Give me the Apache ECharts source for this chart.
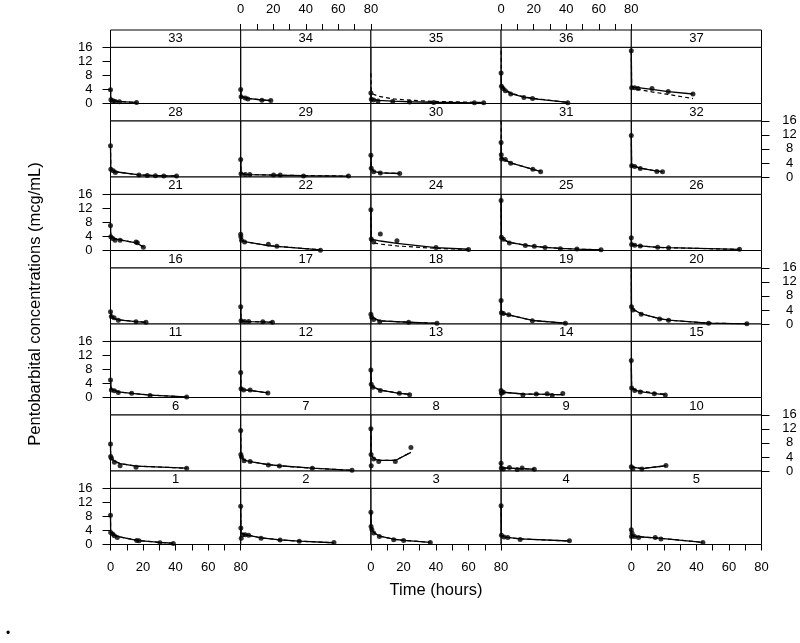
<!DOCTYPE html>
<html>
<head>
<meta charset="utf-8">
<script src="https://cdn.jsdelivr.net/npm/echarts@6/dist/echarts.min.js"></script>
<style>
  html, body { margin: 0; padding: 0; background: #fff; }
  #chartContainer { width: 800px; height: 643px; }
</style>
</head>
<body>
<div id="chartContainer"></div>
<script>
// panels as laid out on the page, top row first
var panelRows = [
  [33, 34, 35, 36, 37],
  [28, 29, 30, 31, 32],
  [21, 22, 24, 25, 26],
  [16, 17, 18, 19, 20],
  [11, 12, 13, 14, 15],
  [6, 7, 8, 9, 10],
  [1, 2, 3, 4, 5]
];
var xTicks = [0, 20, 40, 60, 80];
var yTicks = [0, 4, 8, 12, 16];

// one array per subject, each row: [time (h), observed, individual fit, population fit]
var s1 = [[0, 8.3, 8.3, 8.3], [0.1, 3.4, 3.4, 3.4], [1.3, 3.0, 3.0, 3.0], [2.4, 2.5, 2.7, 2.7], [4.2, 2.0, 2.3, 2.3], [16.1, 1.15, 1.2, 1.2], [17.5, 1.1, 1.1, 1.1], [30.4, 0.5, 0.6, 0.6], [38.6, 0.3, 0.35, 0.35]];
var s2 = [[0, 10.9, 10.9, 10.9], [0.1, 4.7, 4.7, 4.7], [0.3, 1.8, 3.2, 3.2], [1.2, 2.8, 3.0, 3.0], [2.8, 2.8, 2.8, 2.8], [4.9, 2.6, 2.6, 2.6], [12.5, 1.8, 1.9, 1.9], [24.2, 1.25, 1.3, 1.3], [36, 0.95, 0.95, 0.95], [57.3, 0.6, 0.5, 0.5]];
var s3 = [[0, 9.2, 9.2, 9.2], [0.1, 5.1, 5.1, 5.1], [0.6, 4.3, 4.3, 4.3], [1.7, 3.3, 3.4, 3.4], [5.2, 2.3, 2.4, 2.4], [14, 1.35, 1.5, 1.5], [20.1, 1.15, 1.2, 1.2], [36.5, 0.6, 0.6, 0.6]];
var s4 = [[0, 11.0, 11.0, 11.0], [0.2, 2.6, 2.6, 2.6], [1.8, 2.1, 2.2, 2.2], [4.1, 2.0, 2.0, 2.0], [11.7, 1.45, 1.6, 1.6], [42, 1.05, 1.0, 1.0]];
var s5 = [[0, 4.2, 4.2, 4.2], [0.1, 2.3, 3.2, 3.2], [0.5, 3.2, 2.6, 2.6], [2.1, 2.3, 2.3, 2.3], [4.5, 2.0, 2.2, 2.2], [14.7, 2.0, 1.9, 1.9], [18.2, 1.6, 1.75, 1.75], [44, 0.55, 0.6, 0.6]];
var s6 = [[0, 7.7, 7.7, 7.7], [0.1, 4.1, 4.1, 4.1], [0.6, 3.6, 3.5, 3.5], [2.4, 2.5, 2.8, 2.8], [5.9, 1.5, 2.1, 2.1], [15.7, 1.1, 1.4, 1.4], [46.8, 0.75, 0.8, 0.8]];
var s7 = [[0, 11.5, 11.5, 11.5], [0.1, 4.7, 4.7, 4.7], [0.5, 4.0, 4.0, 4.0], [2.1, 2.9, 3.1, 3.1], [5.8, 2.7, 2.7, 2.7], [17, 1.7, 1.8, 1.8], [23.8, 1.4, 1.5, 1.5], [44, 0.75, 0.8, 0.8], [68.4, 0.2, 0.2, 0.2]];
var s8 = [[0, 12.0, 12.0, 12.0], [0.1, 4.7, 4.7, 4.7], [0.2, 1.5, 4.2, 4.2], [1.7, 3.4, 3.5, 3.5], [4.8, 2.7, 3.0, 3.0], [15, 2.7, 3.0, 3.0], [24.6, 6.7, 5.3, 5.3]];
var s9 = [[0, 2.2, 2.2, 2.2], [0.1, 0.85, 1.0, 1.0], [1.4, 0.6, 0.9, 0.9], [5.1, 1.0, 0.8, 0.8], [9.9, 0.4, 0.7, 0.7], [12.9, 0.85, 0.65, 0.65], [20.4, 0.5, 0.5, 0.5]];
var s10 = [[0, 1.2, 1.2, 1.2], [1, 0.7, 0.8, 0.8], [6.5, 0.55, 0.7, 0.7], [21.3, 1.6, 1.5, 1.5]];
var s11 = [[0, 5.0, 5.0, 5.0], [0.5, 2.1, 2.3, 2.3], [2.4, 1.9, 2.0, 2.0], [4.8, 1.4, 1.6, 1.6], [13, 1.2, 1.2, 1.2], [24.3, 0.6, 0.7, 0.7], [46.8, 0.15, 0.15, 0.15]];
var s12 = [[0, 7.1, 7.1, 7.1], [0.2, 2.5, 2.5, 2.5], [1.8, 2.1, 2.2, 2.2], [5.8, 2.1, 2.0, 2.0], [16.7, 1.3, 1.3, 1.3]];
var s13 = [[0, 7.8, 7.8, 7.8], [0.2, 3.8, 3.8, 3.8], [1.2, 2.9, 3.0, 3.0], [5.8, 2.0, 2.1, 2.1], [17.5, 1.2, 1.2, 1.2], [23.8, 0.75, 0.9, 0.9]];
var s14 = [[0, 2.0, 2.0, 2.0], [0.2, 1.2, 1.6, 1.6], [1.4, 1.5, 1.5, 1.5], [13.4, 0.7, 1.0, 1.0], [21.6, 1.0, 0.95, 0.95], [28.3, 1.1, 0.9, 0.9], [31.4, 0.6, 0.85, 0.85], [37.9, 1.15, 0.8, 0.8]];
var s15 = [[0, 10.5, 10.5, 10.5], [0.2, 2.7, 2.7, 2.9], [2.1, 2.0, 2.1, 2.3], [5.5, 1.6, 1.7, 1.9], [14.1, 1.05, 1.1, 1.3], [20.9, 0.7, 0.8, 0.9]];
var s16 = [[0, 3.5, 3.5, 3.5], [0.5, 2.1, 2.1, 2.1], [2.2, 1.8, 1.6, 1.6], [4.8, 1.1, 1.2, 1.2], [15.7, 0.65, 0.7, 0.7], [21.8, 0.5, 0.5, 0.5]];
var s17 = [[0, 4.9, 4.9, 4.9], [0.2, 0.9, 0.9, 0.9], [2.4, 0.7, 0.75, 0.75], [4.9, 0.7, 0.7, 0.7], [13.6, 0.65, 0.6, 0.6], [19.5, 0.5, 0.5, 0.5]];
var s18 = [[0, 2.8, 2.8, 2.8], [0.5, 1.9, 1.9, 1.9], [1.7, 1.3, 1.4, 1.4], [5.4, 0.66, 0.9, 0.9], [23.2, 0.5, 0.5, 0.5], [40.6, 0.2, 0.2, 0.2]];
var s19 = [[0, 6.7, 6.7, 6.7], [0.2, 3.2, 3.2, 3.2], [1.4, 3.0, 3.0, 3.0], [4.7, 2.6, 2.6, 2.6], [19.2, 0.95, 1.0, 1.0], [39.5, 0.2, 0.25, 0.25]];
var s20 = [[0, null, 18, 18], [0.1, 4.9, 5.2, 5.2], [1, 4.0, 4.2, 4.2], [6.1, 2.8, 2.9, 2.9], [17.4, 1.4, 1.5, 1.5], [22.9, 1.1, 1.1, 1.1], [47.5, 0.2, 0.25, 0.25], [71, 0.05, 0.05, 0.05]];
var s21 = [[0, 7.1, 7.1, 7.1], [0.2, 3.9, 3.9, 3.9], [1.4, 3.4, 3.5, 3.5], [2.8, 2.9, 3.3, 3.3], [5.9, 2.9, 3.0, 3.0], [15.7, 2.4, 2.2, 2.2], [16.5, 2.2, 2.1, 2.1], [20.2, 0.9, 1.0, 1.0]];
var s22 = [[0, 4.6, 4.6, 4.6], [0.1, 3.9, 4.0, 4.0], [0.5, 2.9, 3.0, 3.0], [2.4, 2.4, 2.5, 2.5], [17, 1.8, 1.4, 1.4], [22.2, 1.2, 1.2, 1.2], [49, 0.1, 0.2, 0.2]];
var s24 = [[0, 11.6, 11.6, 11.6], [0.2, 3.3, 3.3, 2.6], [1.7, 2.4, 3.1, 2.2], [5.8, 4.7, 2.7, 1.8], [16, 2.8, 2.0, 1.3], [40, 0.85, 0.8, 0.6], [60, 0.3, 0.35, 0.3]];
var s25 = [[0, 14.2, 14.2, 14.2], [0.2, 3.8, 3.8, 3.8], [1.4, 3.2, 3.1, 3.1], [5.1, 2.1, 2.3, 2.3], [14.9, 1.4, 1.5, 1.5], [20.4, 1.2, 1.2, 1.2], [27, 0.85, 0.9, 0.9], [36.4, 0.5, 0.6, 0.6], [46.6, 0.4, 0.4, 0.4], [61.4, 0.2, 0.2, 0.2]];
var s26 = [[0, 3.6, 3.6, 3.6], [0.2, 1.7, 1.8, 1.8], [2.1, 1.5, 1.5, 1.5], [5.5, 1.3, 1.3, 1.3], [16.2, 0.9, 0.9, 0.9], [22.9, 0.75, 0.8, 0.8], [66.5, 0.35, 0.3, 0.3]];
var s28 = [[0, 8.9, 8.9, 8.9], [0.2, 2.2, 2.3, 2.3], [1.7, 1.8, 1.8, 1.8], [3, 1.3, 1.5, 1.5], [17.5, 0.57, 0.6, 0.6], [22.6, 0.4, 0.5, 0.5], [27.6, 0.35, 0.4, 0.4], [32.7, 0.3, 0.35, 0.35], [40.6, 0.3, 0.3, 0.3]];
var s29 = [[0, 5.0, 5.0, 5.0], [0.2, 0.95, 1.0, 1.0], [2.9, 0.7, 0.75, 0.75], [5.6, 0.7, 0.7, 0.7], [20.2, 0.55, 0.55, 0.55], [24.3, 0.55, 0.5, 0.5], [38.6, 0.3, 0.4, 0.4], [66.2, 0.3, 0.25, 0.25]];
var s30 = [[0, 6.2, 6.2, 6.2], [0.2, 2.5, 2.5, 2.5], [1.7, 1.5, 1.6, 1.6], [5.8, 1.15, 1.2, 1.2], [17.7, 1.0, 1.0, 1.0]];
var s31 = [[0, 9.8, 9.8, 16], [0.1, 6.3, 6.3, 7], [0.3, 5.1, 5.3, 5.6], [2.6, 5.0, 4.8, 4.9], [5.9, 3.9, 4.0, 4.0], [19.5, 2.2, 2.2, 2.2], [24.3, 1.5, 1.6, 1.6]];
var s32 = [[0, 11.8, 11.8, 11.8], [0.2, 3.2, 3.2, 3.2], [2.1, 3.0, 3.0, 3.0], [5.5, 2.4, 2.5, 2.5], [15.7, 1.6, 1.7, 1.7], [19.2, 1.5, 1.5, 1.5]];
var s33 = [[0, 3.9, 3.9, 3.9], [0.25, 1.1, 1.2, 1.2], [1.5, 0.8, 0.9, 0.9], [3, 0.6, 0.7, 0.7], [5.5, 0.5, 0.55, 0.55], [16, 0.3, 0.3, 0.3]];
var s34 = [[0, 4.0, 4.0, 4.0], [0.25, 1.9, 2.0, 2.0], [2.8, 1.6, 1.6, 1.6], [4.4, 1.3, 1.45, 1.45], [13, 0.95, 1.0, 1.0], [18.5, 0.85, 0.85, 0.85]];
var s35 = [[0, 3.0, 3.0, 8.6], [0.25, 1.2, 1.3, 3.2], [1.7, 1.0, 1.1, 2.6], [4.4, 0.7, 0.9, 2.1], [13.4, 0.6, 0.7, 1.3], [23.8, 0.4, 0.5, 0.95], [38.6, 0.25, 0.35, 0.6], [63.6, 0.2, 0.2, 0.35], [69.3, 0.2, 0.2, 0.3]];
var s36 = [[0, 8.7, 8.7, 15], [0.2, 4.9, 4.9, 6.0], [1.2, 4.3, 4.3, 4.8], [2.6, 3.6, 3.7, 4.0], [5.9, 2.7, 2.8, 3.0], [14, 1.7, 1.8, 1.9], [19.3, 1.4, 1.4, 1.5], [41, 0.2, 0.3, 0.3]];
var s37 = [[0, 15.0, 15.0, 15.0], [0.2, 4.5, 4.7, 4.6], [2.1, 4.5, 4.6, 4.3], [4.1, 4.3, 4.5, 4.0], [12.7, 4.3, 4.0, 3.3], [22.7, 3.4, 3.4, 2.6], [37.9, 2.7, 2.7, 1.4]];

var subjects = {
  1: s1, 2: s2, 3: s3, 4: s4, 5: s5, 6: s6, 7: s7, 8: s8, 9: s9, 10: s10,
  11: s11, 12: s12, 13: s13, 14: s14, 15: s15, 16: s16, 17: s17, 18: s18, 19: s19, 20: s20,
  21: s21, 22: s22, 24: s24, 25: s25, 26: s26, 28: s28, 29: s29, 30: s30, 31: s31, 32: s32,
  33: s33, 34: s34, 35: s35, 36: s36, 37: s37
};

var FONT = '"Liberation Sans", Arial, sans-serif';
var LEFT = 110.5, COLW = 130.2, TOP = 30, ROWH = 73.5, STRIPH = 17.3, PLOTH = 56.2;

var chart = echarts.init(document.getElementById('chartContainer'), null, { renderer: 'canvas' });

var grids = [], xAxes = [], yAxes = [], series = [], graphics = [];

panelRows.forEach(function (row, r) {
  row.forEach(function (id, c) {
    var idx = grids.length;
    var left = LEFT + c * COLW;
    var stripTop = TOP + r * ROWH;
    var rows = subjects[id];

    grids.push({
      left: left, top: stripTop + STRIPH, width: COLW, height: PLOTH,
      show: true, borderColor: '#000', borderWidth: 1, backgroundColor: 'transparent'
    });

    // lattice style: alternate x labels top/bottom, y labels left/right
    var showBottom = (r === panelRows.length - 1 && c % 2 === 0);
    var showTop = (r === 0 && c % 2 === 1);
    var showX = showBottom || showTop;
    xAxes.push({
      gridIndex: idx, type: 'value', min: 0, max: 80, interval: 10,
      position: showTop ? 'top' : 'bottom',
      offset: showTop ? STRIPH : 0,
      axisLine: { show: false, onZero: false },
      axisTick: { show: showX, length: 6, lineStyle: { color: '#000', width: 1 } },
      axisLabel: {
        show: showX, margin: showTop ? 14 : 16, color: '#000', fontSize: 13, fontFamily: FONT,
        formatter: function (v) { return xTicks.indexOf(v) >= 0 ? String(v) : ''; }
      },
      splitLine: { show: false }
    });

    var showLeft = (c === 0 && r % 2 === 0);
    var showRight = (c === row.length - 1 && r % 2 === 1);
    var showY = showLeft || showRight;
    yAxes.push({
      gridIndex: idx, type: 'value', min: 0, max: 16, interval: 4,
      position: showRight ? 'right' : 'left',
      axisLine: { show: false, onZero: false },
      axisTick: { show: showY, length: 8, lineStyle: { color: '#000', width: 1 } },
      axisLabel: {
        show: showY, margin: showRight ? 28 : 18, align: showRight ? 'center' : 'right',
        color: '#000', fontSize: 13, fontFamily: FONT,
        formatter: function (v) { return yTicks.indexOf(v) >= 0 ? String(v) : ''; }
      },
      splitLine: { show: false }
    });

    series.push({
      type: 'line', xAxisIndex: idx, yAxisIndex: idx, silent: true,
      symbol: 'none', clip: true,
      data: rows.map(function (d) { return [d[0], d[3]]; }),
      lineStyle: { color: '#000', width: 1.2, type: [4, 3] }
    });
    series.push({
      type: 'line', xAxisIndex: idx, yAxisIndex: idx, silent: true,
      symbol: 'none', clip: true,
      data: rows.map(function (d) { return [d[0], d[2]]; }),
      lineStyle: { color: '#000', width: 1.3 }
    });
    series.push({
      type: 'scatter', xAxisIndex: idx, yAxisIndex: idx, silent: true,
      symbolSize: 5, clip: false,
      data: rows.filter(function (d) { return d[1] != null; })
                .map(function (d) { return [d[0], d[1]]; }),
      itemStyle: { color: '#000' }
    });

    // strip with the subject number
    graphics.push({
      type: 'rect', silent: true,
      shape: { x: left, y: stripTop, width: COLW, height: STRIPH },
      style: { fill: '#fff', stroke: '#000', lineWidth: 1 },
      textContent: { style: { text: String(id), fill: '#000', font: '13px ' + FONT } },
      textConfig: { position: 'inside' }
    });
  });
});

graphics.push({
  type: 'text', x: 35, y: 304, rotation: Math.PI / 2, silent: true,
  style: { text: 'Pentobarbital concentrations (mcg/mL)', textAlign: 'center', textVerticalAlign: 'middle',
           fill: '#000', font: '16.5px ' + FONT }
});
graphics.push({
  type: 'text', x: 436, y: 590, silent: true,
  style: { text: 'Time (hours)', textAlign: 'center', textVerticalAlign: 'middle',
           fill: '#000', font: '16.5px ' + FONT }
});
graphics.push({
  type: 'text', x: 8, y: 634, silent: true,
  style: { text: '•', textAlign: 'center', textVerticalAlign: 'middle', fill: '#000', font: '12px ' + FONT }
});

chart.setOption({
  animation: false,
  backgroundColor: '#fff',
  grid: grids,
  xAxis: xAxes,
  yAxis: yAxes,
  series: series,
  graphic: graphics
});

window.addEventListener('resize', function () {
  chart.resize();
});
</script>
</body>
</html>
